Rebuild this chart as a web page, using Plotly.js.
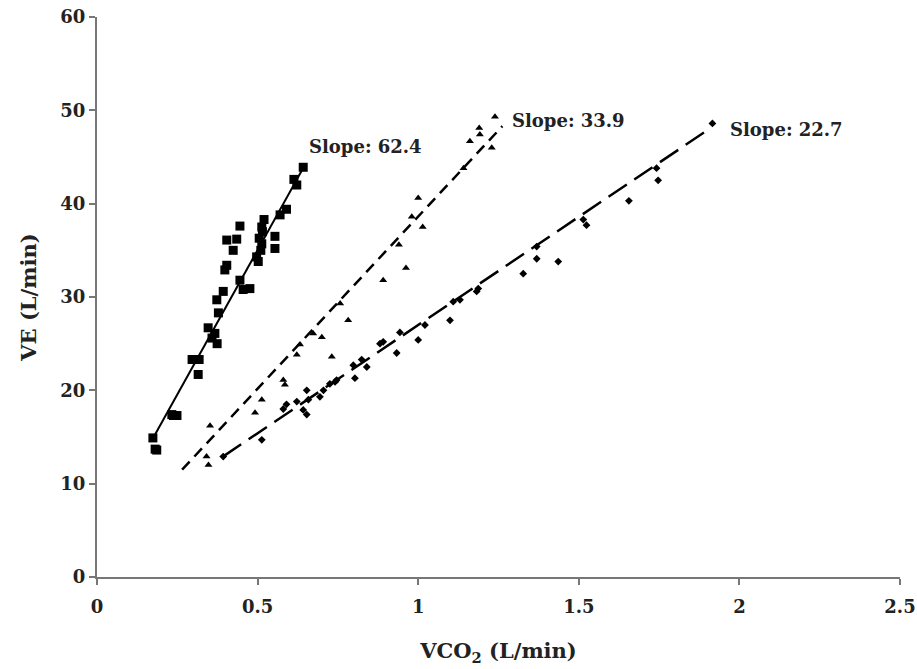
<!DOCTYPE html>
<html>
<head>
<meta charset="utf-8">
<script src="https://cdn.plot.ly/plotly-3.0.1.min.js"></script>
<style>html,body{margin:0;padding:0;background:#fff;}#chart{width:917px;height:669px;}</style>
</head>
<body>
<div id="chart"></div>
<script>
// Series A: squares (slope 62.4)
const sqX = [0.174,0.181,0.186,0.233,0.238,0.249,0.296,0.300,0.318,0.315,0.346,0.358,0.367,0.374,0.373,0.378,0.393,0.398,0.404,0.424,0.404,0.435,0.445,0.455,0.476,0.445,0.497,0.502,0.505,0.513,0.513,0.510,0.515,0.520,0.554,0.554,0.570,0.590,0.613,0.622,0.642];
const sqY = [14.9,13.7,13.6,17.4,17.3,17.3,23.3,23.3,23.3,21.7,26.7,25.6,26.1,25.0,29.7,28.3,30.6,32.9,33.4,35.0,36.1,36.2,37.6,30.8,30.9,31.8,34.3,33.8,36.3,37.5,35.7,35.0,37.0,38.3,36.5,35.2,38.8,39.4,42.6,42.0,43.9];
// Series B: triangles (slope 33.9)
const trX = [0.341,0.347,0.352,0.492,0.513,0.580,0.585,0.622,0.632,0.673,0.700,0.731,0.757,0.782,0.891,0.940,0.962,0.980,1.000,1.014,1.141,1.161,1.190,1.192,1.229,1.239];
const trY = [12.9,12.0,16.2,17.6,19.0,21.1,20.6,23.8,24.9,26.1,25.7,23.6,29.3,27.5,31.8,35.6,33.1,38.6,40.6,37.5,43.8,46.7,48.1,47.4,46.0,49.3];
// Series C: diamonds (slope 22.7)
const dmX = [0.393,0.513,0.580,0.590,0.622,0.642,0.653,0.653,0.658,0.694,0.705,0.725,0.741,0.746,0.798,0.803,0.824,0.840,0.881,0.891,0.933,0.943,1.000,1.021,1.099,1.109,1.130,1.182,1.187,1.327,1.369,1.369,1.436,1.514,1.524,1.656,1.742,1.747,1.916];
const dmY = [12.9,14.7,18.0,18.5,18.8,17.9,17.4,20.0,19.0,19.3,20.0,20.7,20.9,21.1,22.7,21.3,23.3,22.5,25.0,25.2,24.0,26.2,25.4,27.0,27.5,29.5,29.7,30.6,30.9,32.5,35.4,34.1,33.8,38.3,37.7,40.3,43.8,42.5,48.6];
// Trend line endpoints
const fitAX = [0.170, 0.648], fitAY = [14.6, 44.2];
const fitBX = [0.265, 1.262], fitBY = [11.5, 48.3];
const fitCX = [0.392, 1.893], fitCY = [12.9, 47.7];
const slopeLabels = ["Slope: 62.4", "Slope: 33.9", "Slope: 22.7"];
const labelX = [0.655, 1.287, 1.966];
const labelY = [46.1, 48.9, 48.0];
const xTicks = [0, 0.5, 1, 1.5, 2, 2.5];
const xTickText = ["0", "0.5", "1", "1.5", "2", "2.5"];
const yTicks = [0, 10, 20, 30, 40, 50, 60];

const fontFam = "DejaVu Serif, Liberation Serif, serif";
const traces = [
  {x: fitAX, y: fitAY, mode: 'lines', line: {color: '#000', width: 2}, hoverinfo: 'skip'},
  {x: fitBX, y: fitBY, mode: 'lines', line: {color: '#000', width: 2.5, dash: '11px,7px'}, hoverinfo: 'skip'},
  {x: fitCX, y: fitCY, mode: 'lines', line: {color: '#000', width: 2.5, dash: '22px,9px'}, hoverinfo: 'skip'},
  {x: sqX, y: sqY, mode: 'markers', marker: {symbol: 'square', size: 9, color: '#000'}},
  {x: trX, y: trY, mode: 'markers', marker: {symbol: 'triangle-up', size: 7, color: '#000'}},
  {x: dmX, y: dmY, mode: 'markers', marker: {symbol: 'diamond', size: 6, color: '#000'}}
];
const annotations = slopeLabels.map((t, i) => ({
  x: labelX[i], y: labelY[i], text: t, showarrow: false, xanchor: 'left', yanchor: 'middle',
  font: {family: fontFam, size: 18, color: '#222', weight: 'bold'}
}));
const layout = {
  width: 917, height: 669,
  margin: {l: 97, r: 17, t: 17, b: 92},
  paper_bgcolor: '#fff', plot_bgcolor: '#fff',
  showlegend: false,
  font: {family: fontFam, size: 17, color: '#222'},
  xaxis: {
    range: [0, 2.5], tickvals: xTicks, ticktext: xTickText,
    showgrid: false, zeroline: false, showline: true, linecolor: '#777', linewidth: 2,
    ticks: 'outside', ticklen: 6, tickcolor: '#777', tickwidth: 2, ticklabelstandoff: 6,
    tickfont: {family: fontFam, size: 18, weight: 'bold'},
    title: {text: 'VCO<sub>2</sub> (L/min)', font: {family: fontFam, size: 21, weight: 'bold'}, standoff: 28}
  },
  yaxis: {
    range: [0, 60], tickvals: yTicks,
    showgrid: false, zeroline: false, showline: true, linecolor: '#777', linewidth: 2,
    ticks: 'outside', ticklen: 6, tickcolor: '#777', tickwidth: 2,
    tickfont: {family: fontFam, size: 18, weight: 'bold'},
    title: {text: 'VE (L/min)', font: {family: fontFam, size: 21, weight: 'bold'}, standoff: 18}
  },
  annotations: annotations
};
Plotly.newPlot('chart', traces, layout, {displayModeBar: false, staticPlot: true});
</script>
</body>
</html>
